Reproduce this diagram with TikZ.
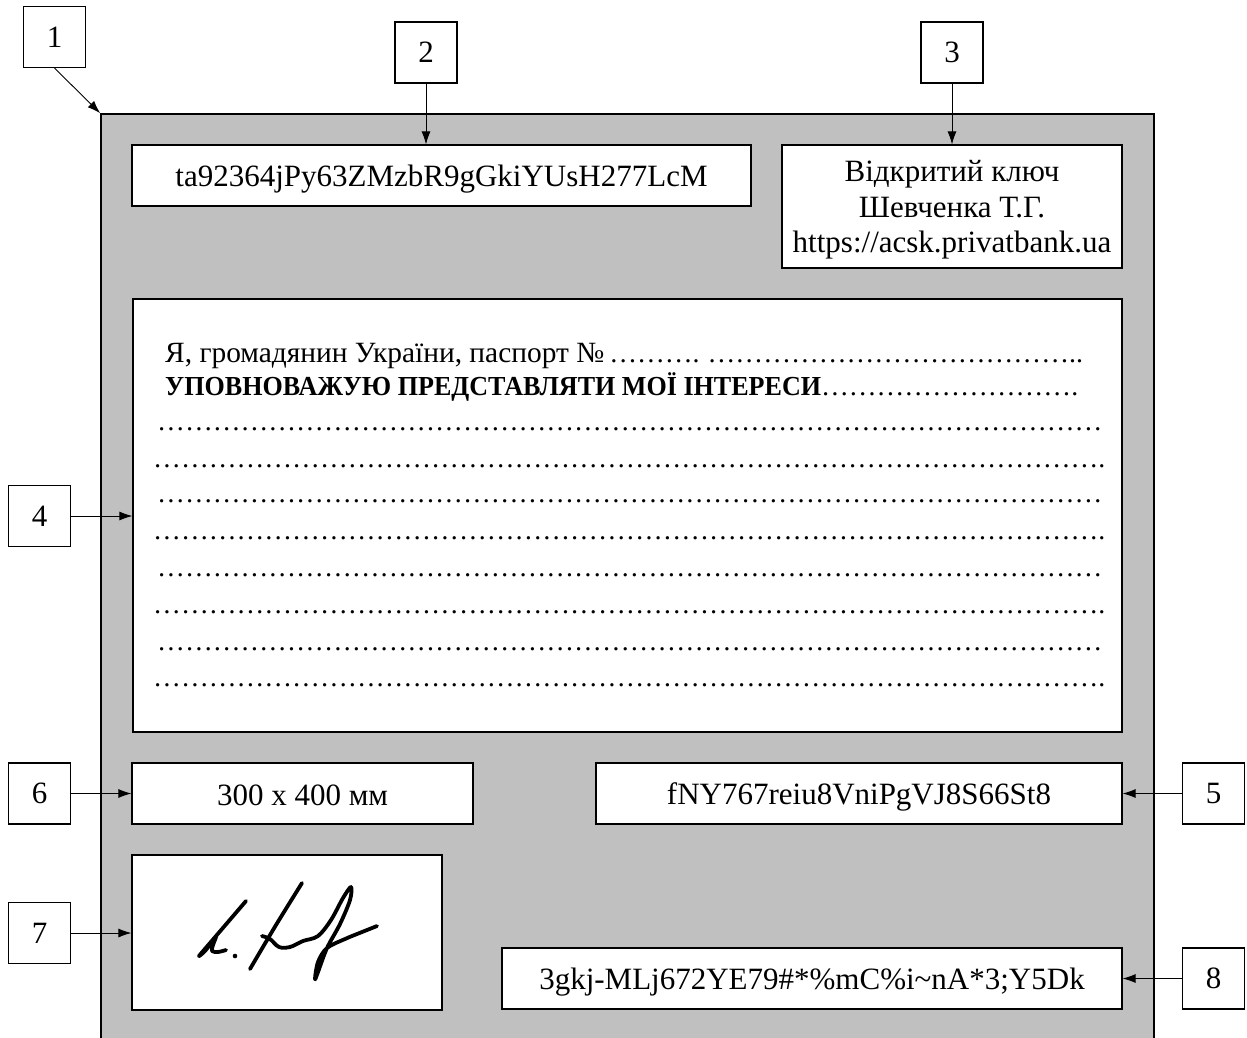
\documentclass[tikz,border=0pt]{standalone}
\usepackage{fontspec}
\setmainfont{Liberation Serif}
\usetikzlibrary{arrows.meta}
\ExplSyntaxOn
\NewDocumentCommand\myrep{mm}{\prg_replicate:nn{#1}{#2}}
\ExplSyntaxOff
\newcommand\regf{\fontsize{29.4}{32}\selectfont}
\newcommand\dotf{\fontsize{27.8}{30}\selectfont}
\newcommand\boldf{\fontsize{27.5}{30}\selectfont\bfseries\addfontfeature{FakeStretch=0.948}}
\definecolor{docgray}{RGB}{192,192,192}
\begin{document}
\begin{tikzpicture}[x=1pt,y=-1pt,
 lbl/.style={draw, line width=1.2pt, fill=white, minimum width=62pt, minimum height=61pt, inner sep=0pt, font=\fontsize{31}{36}\selectfont},
 fld/.style={draw, line width=1.2pt, fill=white, inner sep=0pt},
 fldtext/.style={font=\fontsize{31}{35.5}\selectfont, align=center, inner sep=0pt, yshift=-3.5pt},
 arr/.style={line width=0.9pt, -{Latex[length=13pt,width=9pt]}},
 doctext/.style={anchor=base west, inner sep=0pt, font=\dotf},
 sig/.style={line width=3.8pt, line cap=round, line join=round}]
\useasboundingbox (0,0) rectangle (1247,1037);
\clip (0,0) rectangle (1247,1037);
\fill[white] (0,0) rectangle (1247,1037);
\node[draw, line width=1.5pt, fill=docgray, minimum width=1053pt, minimum height=940pt, inner sep=0pt] (doc) at (627.5,584) {};
% labels
\node[lbl] (n1) at (54.5,37) {1};
\node[lbl] (n2) at (426,52.5) {2};
\node[lbl] (n3) at (952,52.5) {3};
\node[lbl] (n4) at (39.5,516) {4};
\node[lbl] (n6) at (39.5,793.5) {6};
\node[lbl] (n7) at (39.5,933) {7};
\node[lbl] (n5) at (1213.5,793.5) {5};
\node[lbl] (n8) at (1213.5,978.5) {8};
% fields
\node[fld, minimum width=619pt, minimum height=61pt, label={[fldtext]center:ta92364jPy63ZMzbR9gGkiYUsH277LcM}] (f2) at (441.5,175.5) {};
\node[fld, minimum width=340pt, minimum height=123pt, label={[fldtext]center:{Відкритий ключ\\Шевченка Т.Г.\\https://acsk.privatbank.ua}}] (f3) at (952,206.5) {};
\node[fld, minimum width=989pt, minimum height=433pt] (f4) at (627.5,515.5) {};
\node[fld, minimum width=341pt, minimum height=61pt, label={[fldtext, yshift=1.5pt]center:300 x 400 мм}] (f6) at (302.5,793.5) {};
\node[fld, minimum width=526pt, minimum height=61pt, label={[fldtext]center:fNY767reiu8VniPgVJ8S66St8}] (f5) at (859,793.5) {};
\node[fld, minimum width=310pt, minimum height=155pt] (f7) at (287,932.5) {};
\node[fld, minimum width=620pt, minimum height=61pt, label={[fldtext]center:{3gkj-MLj672YE79\#*\%mC\%i\textasciitilde nA*3;Y5Dk}}] (f8) at (812,978.5) {};
% document text
\node[doctext] (t1) at (165,362) {{\regf Я, громадянин України, паспорт №}\hspace{5pt}\myrep{3}{…}.\hspace{8pt}\myrep{13}{…}..};
\node[doctext] (t2) at (165,395) {{\boldf УПОВНОВАЖУЮ ПРЕДСТАВЛЯТИ МОЇ ІНТЕРЕСИ}\myrep{9}{…}.};
\node[doctext] (t3) at (157,430) {\myrep{34}{…}};
\node[doctext] (t4) at (153,467) {\myrep{34}{…}.};
\node[doctext] (t5) at (157,502) {\myrep{34}{…}};
\node[doctext] (t6) at (153,539) {\myrep{34}{…}.};
\node[doctext] (t7) at (157,576) {\myrep{34}{…}};
\node[doctext] (t8) at (153,613) {\myrep{34}{…}.};
\node[doctext] (t9) at (157,650) {\myrep{34}{…}};
\node[doctext] (t10) at (153,686) {\myrep{34}{…}.};
% signature
\draw[sig] plot[smooth, tension=0.5] coordinates {(246,901) (228,922) (210,943) (199,956) (205,951) (212,942) (216,937) (213,945) (212,951) (218,952) (226,950)};
\fill (235,956) circle (2.3pt);
\draw[sig] plot[smooth] coordinates {(302,883) (276,925) (250,969)};
\draw[sig] plot[smooth, tension=0.55] coordinates {(262,936) (270,939) (279,947) (290,947) (303,941) (318,936) (331,920) (343,898) (351,887) (350,900) (340,924) (327,948) (318,972) (315,979) (318,962) (327,948) (345,939) (362,932) (377,926)};
% connectors
\draw[arr] (n1.south) -- (doc.north west);
\draw[arr] (n2.south) -- (n2.south |- f2.north);
\draw[arr] (n3.south) -- (f3.north);
\draw[arr] (n4.east) -- (n4.east -| f4.west);
\draw[arr] (n6.east) -- (f6.west);
\draw[arr] (n7.east) -- (n7.east -| f7.west);
\draw[arr] (n5.west) -- (f5.east);
\draw[arr] (n8.west) -- (f8.east);
\end{tikzpicture}
\end{document}
